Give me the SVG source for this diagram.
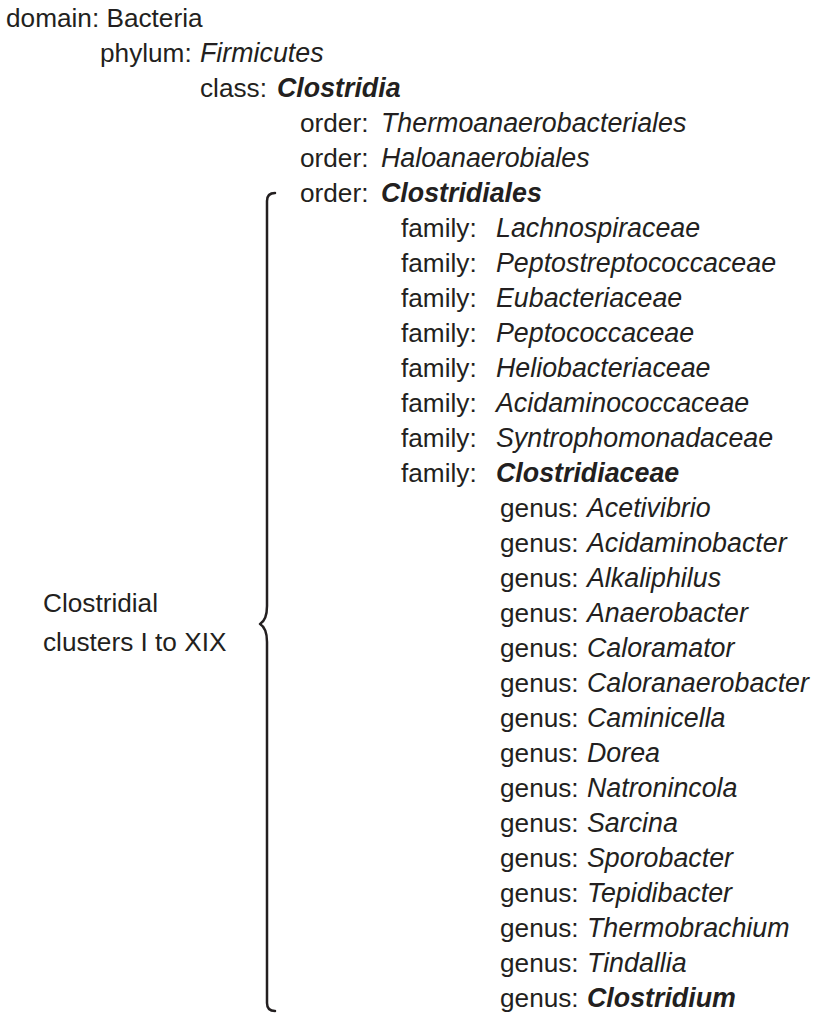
<svg xmlns="http://www.w3.org/2000/svg" width="815" height="1015" viewBox="0 0 815 1015">
<style>
text{font-family:"Liberation Sans",Arial,Helvetica,sans-serif;font-size:26.2px;fill:#231f20}
.n{font-style:italic;font-size:26.8px}
.b{font-style:italic;font-weight:bold;font-size:26.8px}
.brace{fill:none;stroke:#231f20;stroke-width:2.5;stroke-linecap:round;stroke-linejoin:round}
</style>
<rect width="815" height="1015" fill="#fff"/>
<g id="domain"><text x="6" y="27">domain: Bacteria</text></g>
<g id="phylum"><text x="100" y="62">phylum:</text><text class="n" x="200" y="62">Firmicutes</text></g>
<g id="class"><text x="200" y="97">class:</text><text class="b" x="277" y="97">Clostridia</text></g>
<g id="order-thermoanaerobacteriales"><text x="300" y="132">order:</text><text class="n" x="381" y="132">Thermoanaerobacteriales</text></g>
<g id="order-haloanaerobiales"><text x="300" y="167">order:</text><text class="n" x="381" y="167">Haloanaerobiales</text></g>
<g id="order-clostridiales"><text x="300" y="202">order:</text><text class="b" x="381" y="202">Clostridiales</text></g>
<g id="family-lachnospiraceae"><text x="401" y="237">family:</text><text class="n" x="496" y="237">Lachnospiraceae</text></g>
<g id="family-peptostreptococcaceae"><text x="401" y="272">family:</text><text class="n" x="496" y="272">Peptostreptococcaceae</text></g>
<g id="family-eubacteriaceae"><text x="401" y="307">family:</text><text class="n" x="496" y="307">Eubacteriaceae</text></g>
<g id="family-peptococcaceae"><text x="401" y="342">family:</text><text class="n" x="496" y="342">Peptococcaceae</text></g>
<g id="family-heliobacteriaceae"><text x="401" y="377">family:</text><text class="n" x="496" y="377">Heliobacteriaceae</text></g>
<g id="family-acidaminococcaceae"><text x="401" y="412">family:</text><text class="n" x="496" y="412">Acidaminococcaceae</text></g>
<g id="family-syntrophomonadaceae"><text x="401" y="447">family:</text><text class="n" x="496" y="447">Syntrophomonadaceae</text></g>
<g id="family-clostridiaceae"><text x="401" y="482">family:</text><text class="b" x="496" y="482">Clostridiaceae</text></g>
<g id="genus-acetivibrio"><text x="500" y="517">genus:</text><text class="n" x="587" y="517">Acetivibrio</text></g>
<g id="genus-acidaminobacter"><text x="500" y="552">genus:</text><text class="n" x="587" y="552">Acidaminobacter</text></g>
<g id="genus-alkaliphilus"><text x="500" y="587">genus:</text><text class="n" x="587" y="587">Alkaliphilus</text></g>
<g id="genus-anaerobacter"><text x="500" y="622">genus:</text><text class="n" x="587" y="622">Anaerobacter</text></g>
<g id="genus-caloramator"><text x="500" y="657">genus:</text><text class="n" x="587" y="657">Caloramator</text></g>
<g id="genus-caloranaerobacter"><text x="500" y="692">genus:</text><text class="n" x="587" y="692">Caloranaerobacter</text></g>
<g id="genus-caminicella"><text x="500" y="727">genus:</text><text class="n" x="587" y="727">Caminicella</text></g>
<g id="genus-dorea"><text x="500" y="762">genus:</text><text class="n" x="587" y="762">Dorea</text></g>
<g id="genus-natronincola"><text x="500" y="797">genus:</text><text class="n" x="587" y="797">Natronincola</text></g>
<g id="genus-sarcina"><text x="500" y="832">genus:</text><text class="n" x="587" y="832">Sarcina</text></g>
<g id="genus-sporobacter"><text x="500" y="867">genus:</text><text class="n" x="587" y="867">Sporobacter</text></g>
<g id="genus-tepidibacter"><text x="500" y="902">genus:</text><text class="n" x="587" y="902">Tepidibacter</text></g>
<g id="genus-thermobrachium"><text x="500" y="937">genus:</text><text class="n" x="587" y="937">Thermobrachium</text></g>
<g id="genus-tindallia"><text x="500" y="972">genus:</text><text class="n" x="587" y="972">Tindallia</text></g>
<g id="genus-clostridium"><text x="500" y="1007">genus:</text><text class="b" x="587" y="1007">Clostridium</text></g>
<g id="clusters-label"><text x="43" y="612">Clostridial</text><text x="43" y="651">clusters I to XIX</text></g>
<g id="connectors"><path class="brace" d="M275,193 Q267,193 267,201 L267,606 Q267,620 260,624 Q267,628 267,642 L267,1003 Q267,1011 275,1011"/></g>
</svg>
